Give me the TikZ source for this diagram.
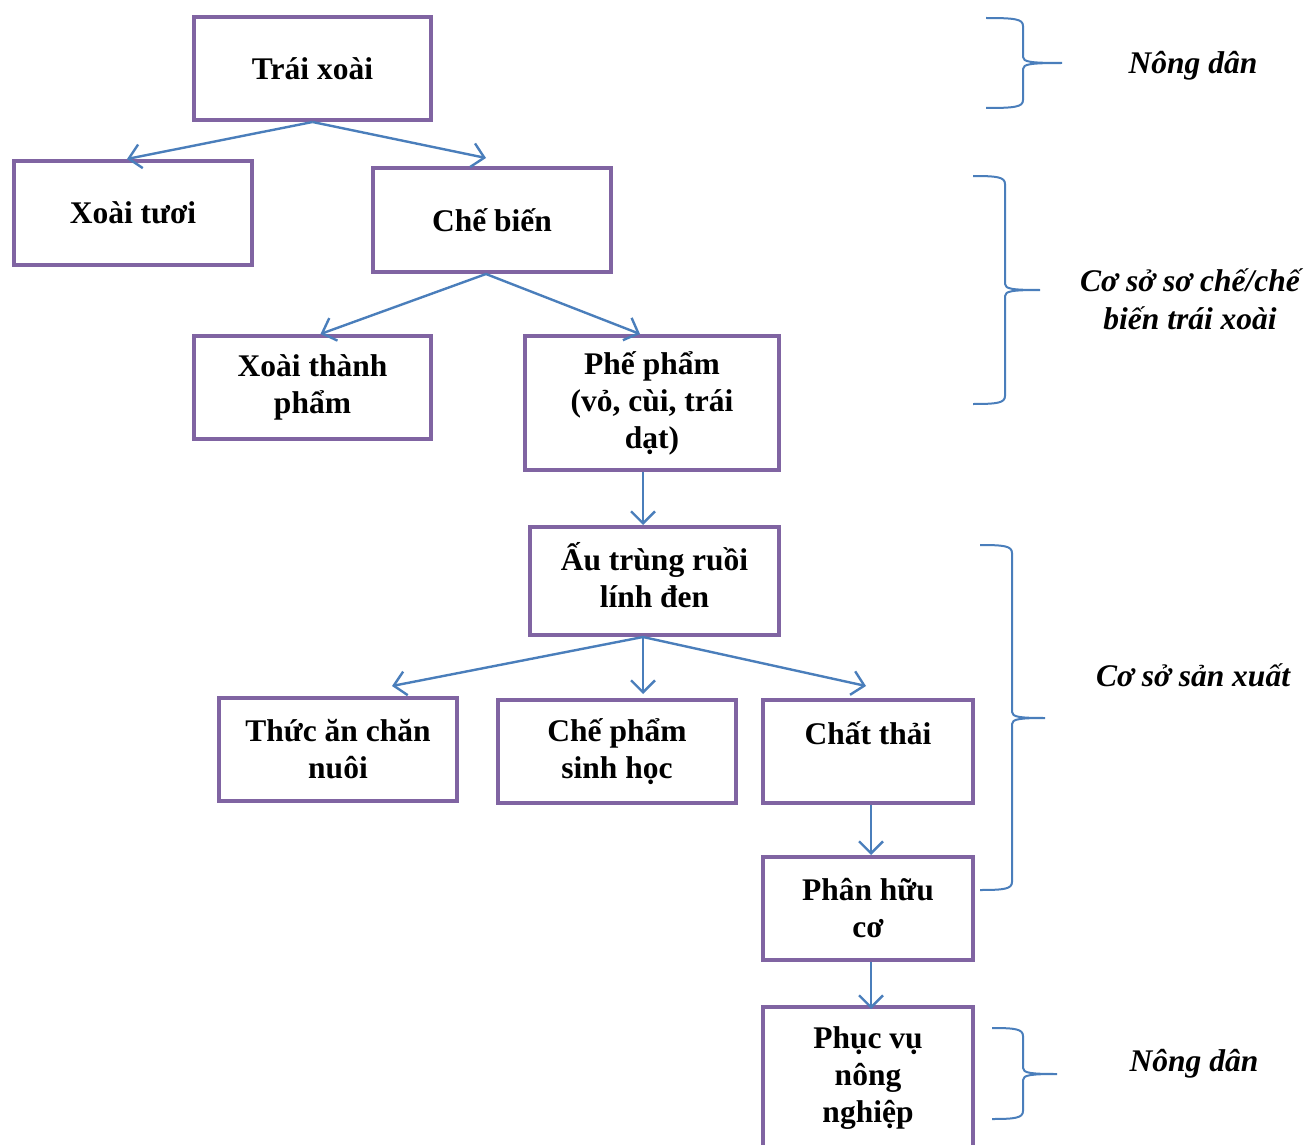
\documentclass[tikz,border=0pt]{standalone}
\usepackage{fontspec}
\setmainfont{Liberation Serif}
\usetikzlibrary{arrows.meta}

\definecolor{boxpurple}{HTML}{8064A2}
\definecolor{linkblue}{HTML}{4A7EBB}

\tikzset{
  stage/.style={draw=boxpurple, line width=4pt, rectangle, inner sep=0pt,
    align=center, font=\fontsize{31.5}{37}\selectfont\bfseries},
  flow/.style={draw=linkblue, line width=2.4pt,
    -{Straight Barb[length=12pt,width=24pt]}},
  group/.style={draw=linkblue, line width=2pt},
  role/.style={align=center, font=\fontsize{31.5}{38}\selectfont\bfseries\itshape}
}

% right-facing curly brace:
% #1 x of open ends, #2 top y, #3 x of spine, #4 x of tip, #5 y of tip, #6 bottom y
\newcommand\sidebrace[6]{%
  \draw[group] (#1,#2) .. controls ({#3-8},#2) and (#3,{#2+1}) .. (#3,{#2+8})
    -- (#3,{#5-6}) .. controls (#3,{#5-1}) and ({#3+8},#5) .. (#4,#5)
    .. controls ({#3+8},#5) and (#3,{#5+1}) .. (#3,{#5+6})
    -- (#3,{#6-8}) .. controls (#3,{#6-1}) and ({#3-8},#6) .. (#1,#6);
}

\begin{document}
\begin{tikzpicture}[x=1pt,y=-1pt]
\useasboundingbox (0,0) rectangle (1307,1145);

% process stages
\node[stage, minimum width=237pt, minimum height=103pt] (b1) at (312.5,68.5) {Trái xoài};
\node[stage, minimum width=238pt, minimum height=104pt] (b2) at (133,213) {Xoài tươi};
\node[stage, minimum width=238pt, minimum height=104pt] (b3) at (492,220) {Chế biến};
\node[stage, minimum width=237pt, minimum height=103pt] (b4) at (312.5,387.5) {Xoài thành\\phẩm};
\node[stage, minimum width=254pt, minimum height=134pt] (b5) at (652,403) {Phế phẩm\\(vỏ, cùi, trái\\dạt)};
\node[stage, minimum width=249pt, minimum height=108pt] (b6) at (654.5,581)
  {\begin{tabular}{@{}c@{}}Ấu trùng ruồi\\lính đen\end{tabular}};
\node[stage, minimum width=238pt, minimum height=103pt] (b7) at (338,749.5) {Thức ăn chăn\\nuôi};
\node[stage, minimum width=238pt, minimum height=103pt] (b8) at (617,751.5) {Chế phẩm\\sinh học};
\node[stage, minimum width=210pt, minimum height=103pt] (b9) at (868,751.5) {Chất thải\\\mbox{}};
\node[stage, minimum width=210pt, minimum height=103pt] (b10) at (868,908.5) {Phân hữu\\cơ};
\node[stage, minimum width=210pt, minimum height=143pt] (b11) at (868,1078.5) {Phục vụ\\nông\\nghiệp};

% flows
\draw[flow] (b1.south) -- ([xshift=-6pt]b2.north);
\draw[flow] (b1.south) -- ([xshift=-6pt,yshift=8pt]b3.north);
\draw[flow] ([xshift=-6pt]b3.south) -- ([xshift=8pt]b4.north);
\draw[flow] ([xshift=-6pt]b3.south) -- ([xshift=-12pt]b5.north);
\draw[flow] ([xshift=-9pt]b5.south) -- ([xshift=-11.5pt]b6.north);
\draw[flow] ([xshift=-11.5pt]b6.south) -- ([xshift=54pt,yshift=10pt]b7.north);
\draw[flow] ([xshift=-11.5pt]b6.south) -- ([xshift=26pt,yshift=4pt]b8.north);
\draw[flow] ([xshift=-11.5pt]b6.south) -- ([xshift=-2pt,yshift=12pt]b9.north);
\draw[flow] ([xshift=3pt]b9.south) -- ([xshift=3pt]b10.north);
\draw[flow] ([xshift=3pt]b10.south) -- ([xshift=3pt,yshift=-4pt]b11.north);

% actor groups
\sidebrace{986}{18}{1023}{1062}{63}{108}
\sidebrace{973}{176}{1005}{1040}{290}{404}
\sidebrace{980}{545}{1012}{1045}{718}{890}
\sidebrace{992}{1028}{1023}{1057}{1074}{1119}

\node[role] (r1) at (1193,66) {Nông dân};
\node[role] (r2) at (1190,299) {Cơ sở sơ chế/chế\\biến trái xoài};
\node[role] (r3) at (1193,675) {Cơ sở sản xuất};
\node[role] (r4) at (1194,1064) {Nông dân};
\end{tikzpicture}
\end{document}
